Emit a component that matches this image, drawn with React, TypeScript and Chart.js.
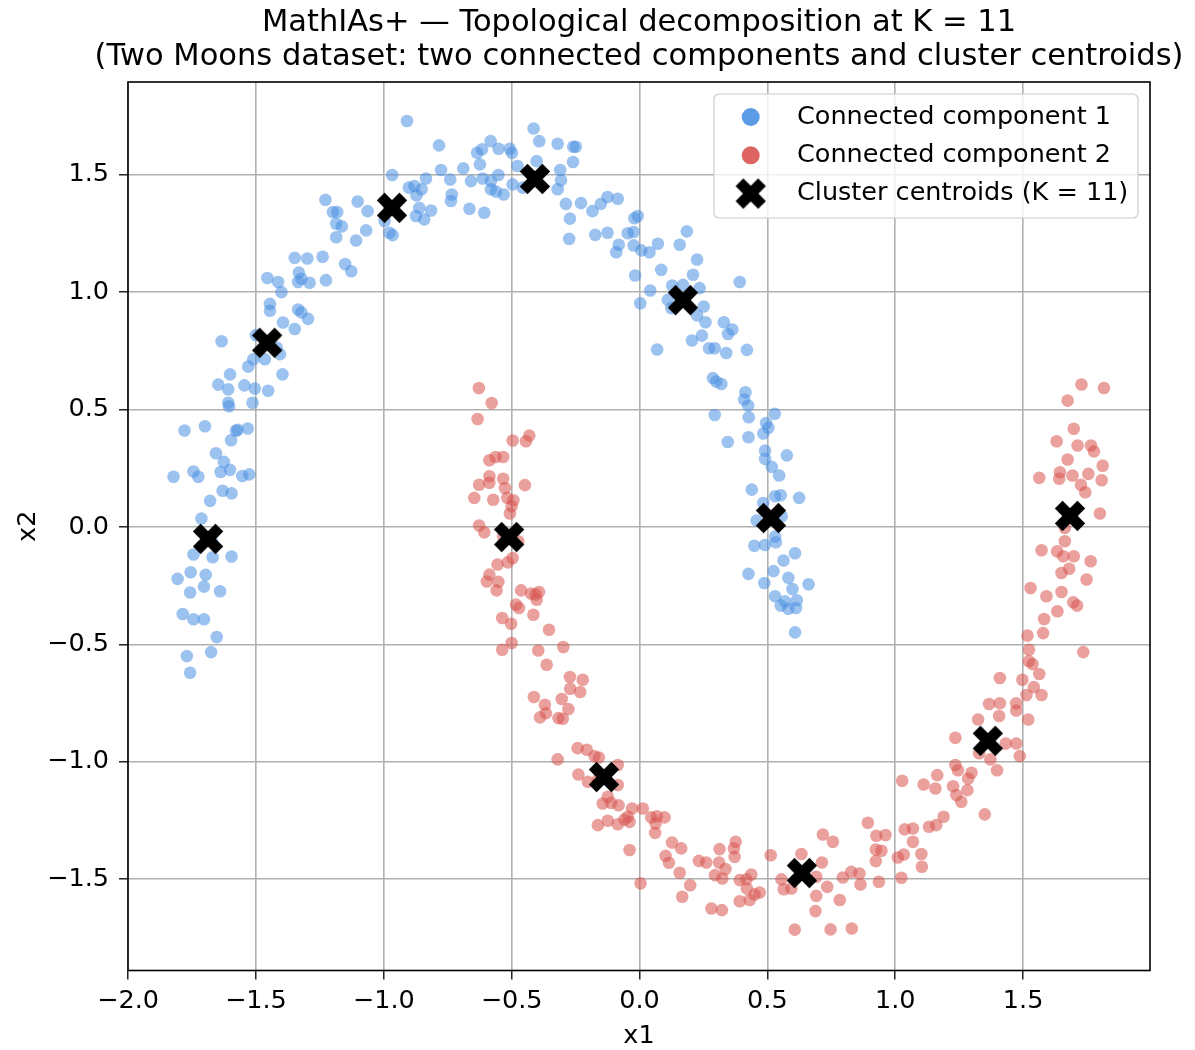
import { useEffect, useRef } from 'react';
import { Chart, registerables } from 'chart.js';

Chart.register(...registerables);

const FONT = "'DejaVu Sans', 'Noto Sans', sans-serif";

// ---------- text ----------
const titleLines = [
  'MathIAs+ — Topological decomposition at K = 11',
  '(Two Moons dataset: two connected components and cluster centroids)',
];
const xAxisLabel = 'x1';
const yAxisLabel = 'x2';
const seriesLabels = ['Connected component 1', 'Connected component 2', 'Cluster centroids (K = 11)'];

// ---------- axes ----------
const xTicks = [-2.0, -1.5, -1.0, -0.5, 0.0, 0.5, 1.0, 1.5];
const yTicks = [-1.5, -1.0, -0.5, 0.0, 0.5, 1.0, 1.5];
const xLimits = [-2.0, 1.996];
const yLimits = [-1.889, 1.895];

// ---------- data: [x1, x2] ----------
const component1: [number, number][] = [
  [-1.348, 1.146], [-1.299, 1.143], [-1.239, 1.151], [-1.151, 1.12], [-1.127, 1.089], [-1.455, 1.06], [-1.413, 1.043],
  [-1.4, 1.0], [-1.332, 1.083], [-1.322, 1.057], [-1.335, 1.043], [-1.29, 1.04], [-1.226, 1.051], [-1.445, 0.95],
  [-1.445, 0.921], [-1.335, 0.926], [-1.322, 0.914], [-1.296, 0.886], [-1.394, 0.871], [-1.348, 0.843], [-1.634, 0.791],
  [-1.5, 0.817], [-1.419, 0.764], [-1.406, 0.736], [-1.465, 0.714], [-1.51, 0.714], [-1.53, 0.683], [-1.601, 0.65],
  [-1.396, 0.65], [-1.647, 0.606], [-1.608, 0.586], [-1.545, 0.603], [-1.504, 0.589], [-1.452, 0.58], [-1.608, 0.529],
  [-1.605, 0.514], [-1.513, 0.529], [-1.779, 0.411], [-1.699, 0.429], [-1.578, 0.41], [-1.571, 0.414], [-1.532, 0.419],
  [-1.597, 0.369], [-1.656, 0.314], [-1.625, 0.277], [-1.638, 0.234], [-1.601, 0.243], [-1.744, 0.236], [-1.725, 0.214],
  [-1.822, 0.214], [-1.553, 0.217], [-1.526, 0.224], [-1.63, 0.154], [-1.595, 0.143], [-1.679, 0.111], [-1.713, 0.036],
  [-1.673, -0.054], [-1.744, -0.117], [-1.669, -0.129], [-1.595, -0.126], [-1.755, -0.193], [-1.696, -0.204],
  [-1.806, -0.221], [-1.703, -0.254], [-1.757, -0.279], [-1.64, -0.274], [-1.786, -0.371], [-1.744, -0.393],
  [-1.703, -0.393], [-1.653, -0.469], [-1.77, -0.55], [-1.675, -0.533], [-1.757, -0.621],
  [-0.909, 1.729], [-0.784, 1.625], [-0.414, 1.697], [-0.392, 1.643], [-0.32, 1.632], [-0.259, 1.619], [-0.249, 1.619],
  [-0.26, 1.554], [-0.582, 1.643], [-0.616, 1.608], [-0.635, 1.594], [-0.551, 1.611], [-0.507, 1.611], [-0.499, 1.594],
  [-0.624, 1.544], [-0.776, 1.52], [-0.689, 1.527], [-0.477, 1.537], [-0.402, 1.558], [-0.31, 1.52], [-0.967, 1.499],
  [-0.835, 1.484], [-0.74, 1.48], [-0.659, 1.473], [-0.613, 1.484], [-0.552, 1.499], [-0.581, 1.473], [-0.307, 1.476],
  [-0.32, 1.438], [-0.496, 1.459], [-0.457, 1.445], [-0.902, 1.445], [-0.88, 1.452], [-0.852, 1.438], [-0.872, 1.413],
  [-0.581, 1.438], [-0.561, 1.428], [-0.531, 1.416], [-0.734, 1.416], [-0.737, 1.388], [-1.228, 1.393], [-1.102, 1.386],
  [-1.199, 1.341], [-1.182, 1.341], [-1.063, 1.345], [-1.186, 1.291], [-1.164, 1.28], [-1.186, 1.234], [-1.108, 1.22],
  [-1.069, 1.263], [-0.997, 1.303], [-0.978, 1.253], [-0.965, 1.243], [-0.861, 1.359], [-0.815, 1.348], [-0.874, 1.324],
  [-0.842, 1.31], [-0.665, 1.355], [-0.607, 1.338], [-0.288, 1.376], [-0.229, 1.379], [-0.272, 1.313], [-0.184, 1.345],
  [-0.151, 1.376], [-0.125, 1.405], [-0.275, 1.227], [-0.173, 1.244], [-0.125, 1.253],
  [-0.085, 1.398], [-0.02, 1.315], [-0.007, 1.324], [-0.046, 1.251], [-0.023, 1.256], [-0.091, 1.17], [-0.081, 1.202],
  [-0.023, 1.199], [0.007, 1.178], [0.039, 1.17], [0.072, 1.206], [0.185, 1.259], [0.157, 1.202], [0.225, 1.139],
  [0.085, 1.095], [0.209, 1.074], [-0.017, 1.071], [0.128, 1.028], [0.17, 1.031], [0.235, 1.017], [0.392, 1.043],
  [0.042, 1.007], [0.003, 0.953], [0.111, 0.967], [0.124, 0.932], [0.251, 0.939], [0.225, 0.901], [0.258, 0.872],
  [0.33, 0.872], [0.363, 0.841], [0.346, 0.822], [0.244, 0.815], [0.205, 0.794], [0.272, 0.761], [0.294, 0.761],
  [0.339, 0.741], [0.42, 0.754], [0.069, 0.756], [0.287, 0.634], [0.3, 0.619], [0.32, 0.609], [0.414, 0.574],
  [0.409, 0.543], [0.425, 0.517], [0.294, 0.477], [0.529, 0.482], [0.427, 0.467],
  [0.495, 0.443], [0.504, 0.422], [0.484, 0.398], [0.345, 0.362], [0.426, 0.382], [0.491, 0.325], [0.576, 0.305],
  [0.491, 0.29], [0.517, 0.256], [0.546, 0.219], [0.439, 0.159], [0.53, 0.131], [0.552, 0.135], [0.624, 0.124],
  [0.484, 0.102], [0.556, 0.045], [0.458, 0.027], [0.449, -0.08], [0.491, -0.077], [0.533, -0.065], [0.53, -0.041],
  [0.608, -0.112], [0.563, -0.143], [0.426, -0.2], [0.524, -0.188], [0.582, -0.217], [0.488, -0.239], [0.661, -0.244],
  [0.598, -0.264], [0.53, -0.295], [0.569, -0.317], [0.552, -0.335], [0.582, -0.349], [0.615, -0.312], [0.612, -0.345],
  [0.608, -0.449],
];

const component2: [number, number][] = [
  [-0.628, 0.592], [-0.578, 0.528], [-0.633, 0.46], [-0.431, 0.389], [-0.444, 0.365], [-0.496, 0.368], [-0.587, 0.284],
  [-0.563, 0.298], [-0.533, 0.298], [-0.587, 0.216], [-0.627, 0.18], [-0.587, 0.188], [-0.533, 0.205], [-0.526, 0.166],
  [-0.448, 0.178], [-0.646, 0.124], [-0.572, 0.116], [-0.517, 0.124], [-0.493, 0.114], [-0.5, 0.088], [-0.507, 0.057],
  [-0.627, 0.006], [-0.607, -0.023], [-0.533, -0.04], [-0.474, -0.061], [-0.496, -0.132], [-0.515, -0.151],
  [-0.555, -0.16], [-0.587, -0.203], [-0.597, -0.232], [-0.552, -0.234], [-0.559, -0.27], [-0.463, -0.27],
  [-0.424, -0.284], [-0.406, -0.288], [-0.393, -0.277], [-0.402, -0.31], [-0.483, -0.331], [-0.471, -0.345],
  [-0.415, -0.374], [-0.537, -0.388], [-0.502, -0.412], [-0.354, -0.438], [-0.5, -0.494], [-0.537, -0.523],
  [-0.396, -0.526], [-0.298, -0.511], [-0.363, -0.587], [-0.272, -0.639], [-0.222, -0.651], [-0.271, -0.689],
  [-0.232, -0.703], [-0.413, -0.724], [-0.37, -0.757], [-0.304, -0.733], [-0.278, -0.776], [-0.366, -0.793],
  [-0.389, -0.811], [-0.317, -0.814], [-0.3, -0.817], [-0.242, -0.942], [-0.206, -0.949],
  [-0.32, -0.99], [-0.176, -0.976], [-0.159, -0.982], [-0.085, -1.014], [-0.239, -1.054], [-0.202, -1.085],
  [-0.163, -1.078], [-0.085, -1.099], [-0.124, -1.149], [-0.144, -1.178], [-0.111, -1.175], [-0.082, -1.185],
  [-0.029, -1.199], [0.013, -1.199], [-0.163, -1.27], [-0.124, -1.251], [-0.085, -1.266], [-0.059, -1.246],
  [-0.046, -1.234], [-0.039, -1.256], [0.046, -1.237], [0.068, -1.232], [0.098, -1.237], [0.063, -1.263],
  [0.061, -1.303], [-0.039, -1.376], [0.127, -1.344], [0.163, -1.369], [0.102, -1.401], [0.115, -1.43], [0.157, -1.473],
  [0.198, -1.526], [0.167, -1.575], [0.232, -1.422], [0.261, -1.429], [0.313, -1.372], [0.376, -1.341], [0.369, -1.369],
  [0.372, -1.405], [0.311, -1.429], [0.336, -1.457], [0.295, -1.483], [0.324, -1.497], [0.004, -1.518], [0.281, -1.625],
  [0.322, -1.632], [0.392, -1.504], [0.418, -1.501], [0.437, -1.48], [0.42, -1.54], [0.45, -1.565], [0.47, -1.557],
  [0.392, -1.594], [0.431, -1.589], [0.513, -1.398], [0.555, -1.501], [0.564, -1.543], [0.594, -1.54], [0.633, -1.393],
  [0.607, -1.715],
  [0.717, -1.31], [0.756, -1.341], [0.713, -1.429], [0.893, -1.26], [0.926, -1.315], [0.962, -1.312], [0.924, -1.374],
  [0.946, -1.379], [0.924, -1.423], [1.037, -1.288], [1.069, -1.284], [1.069, -1.341], [1.01, -1.408], [1.033, -1.395],
  [1.102, -1.393], [1.104, -1.447], [1.024, -1.494], [0.795, -1.493], [0.828, -1.469], [0.86, -1.476], [0.864, -1.523],
  [0.936, -1.511], [0.734, -1.533], [0.691, -1.571], [0.783, -1.589], [0.688, -1.636], [0.747, -1.714], [0.83, -1.71],
  [0.691, -1.49], [1.027, -1.081], [1.111, -1.097], [1.157, -1.114], [1.164, -1.057], [1.132, -1.277], [1.16, -1.27],
  [1.189, -1.234], [1.226, -1.104], [1.235, -1.014], [1.245, -1.036], [1.235, -0.898], [1.239, -1.142], [1.258, -1.17],
  [1.282, -1.121], [1.285, -1.071], [1.298, -1.047], [1.35, -1.224], [1.324, -0.82], [1.367, -0.754], [1.409, -0.751],
  [1.406, -0.805], [1.473, -0.751], [1.473, -0.782], [1.52, -0.82], [1.513, -0.716], [1.572, -0.716], [1.328, -0.964],
  [1.372, -0.99], [1.398, -1.036], [1.432, -0.922], [1.473, -0.922], [1.487, -0.976],
  [1.728, 0.607], [1.816, 0.592], [1.674, 0.538], [1.698, 0.418], [1.631, 0.365], [1.713, 0.347], [1.765, 0.347],
  [1.777, 0.322], [1.674, 0.287], [1.811, 0.261], [1.644, 0.233], [1.693, 0.219], [1.755, 0.226], [1.641, 0.205],
  [1.563, 0.209], [1.726, 0.18], [1.807, 0.199], [1.743, 0.148], [1.8, 0.057], [1.663, -0.004], [1.663, -0.061],
  [1.572, -0.099], [1.633, -0.104], [1.657, -0.125], [1.698, -0.125], [1.68, -0.178], [1.764, -0.146], [1.65, -0.196],
  [1.748, -0.224], [1.529, -0.26], [1.591, -0.295], [1.65, -0.277], [1.696, -0.321], [1.711, -0.335], [1.634, -0.359],
  [1.582, -0.392], [1.578, -0.452], [1.517, -0.463], [1.735, -0.533], [1.523, -0.523], [1.522, -0.572], [1.537, -0.584],
  [1.563, -0.626], [1.497, -0.651], [1.409, -0.643], [1.542, -0.682],
];

const centroids: [number, number][] = [
  [-1.687, -0.051], [-1.456, 0.784], [-0.968, 1.359], [-0.409, 1.482], [0.17, 0.966], [0.514, 0.038],
  [-0.51, -0.043], [-0.139, -1.065], [0.635, -1.474], [1.362, -0.911], [1.683, 0.047],
];

// ---------- styles ----------
const blue = 'rgba(74, 144, 226, 0.55)';
const red = 'rgba(217, 83, 79, 0.55)';
const blueLegend = 'rgba(74, 144, 226, 0.9)';
const redLegend = 'rgba(217, 83, 79, 0.9)';

const toXY = (arr: [number, number][]) => arr.map(([x, y]) => ({ x, y }));
const fmt = (v: number | string) => {
  const n = Number(v);
  return (n < 0 ? '\u2212' : '') + Math.abs(n).toFixed(1);
};

function makeXMarker(): HTMLCanvasElement {
  const c = document.createElement('canvas');
  c.width = 34;
  c.height = 34;
  const g = c.getContext('2d')!;
  g.translate(17, 17);
  g.rotate(Math.PI / 4);
  g.fillStyle = '#000';
  const L = 32;
  const w = 11;
  g.fillRect(-L / 2, -w / 2, L, w);
  g.fillRect(-w / 2, -L / 2, w, L);
  return c;
}

export default function App() {
  const ref = useRef<HTMLCanvasElement | null>(null);

  useEffect(() => {
    if (!ref.current) return;
    const xMarker = makeXMarker();

    const framePlugin = {
      id: 'frameAndLegend',
      afterDatasetsDraw(chart: any) {
        const { ctx, chartArea: a } = chart;
        ctx.save();
        ctx.strokeStyle = '#000';
        ctx.lineWidth = 1.6;
        ctx.strokeRect(a.left, a.top, a.right - a.left, a.bottom - a.top);
        ctx.restore();
      },
      afterDraw(chart: any) {
        const { ctx, chartArea: a } = chart;
        const w = 424;
        const h = 124;
        const bx = a.right - 12 - w;
        const by = a.top + 12;
        ctx.save();
        ctx.beginPath();
        ctx.roundRect(bx, by, w, h, 5);
        ctx.fillStyle = 'rgba(255,255,255,0.8)';
        ctx.fill();
        ctx.strokeStyle = '#cccccc';
        ctx.lineWidth = 1.2;
        ctx.stroke();
        const ds = chart.data.datasets;
        const rowY = (i: number) => by + 23 + i * 38.3;
        const mx = bx + 36.7;
        ctx.font = `25.5px ${FONT}`;
        ctx.textBaseline = 'middle';
        ctx.textAlign = 'left';
        for (let i = 0; i < ds.length; i++) {
          const y = rowY(i);
          if (i === 2) {
            ctx.drawImage(xMarker, mx - xMarker.width / 2, y - xMarker.height / 2);
          } else {
            ctx.beginPath();
            ctx.arc(mx, y, 9, 0, Math.PI * 2);
            ctx.fillStyle = i === 0 ? blueLegend : redLegend;
            ctx.fill();
          }
          ctx.fillStyle = '#000';
          ctx.fillText(ds[i].label, bx + 83, y);
        }
        ctx.restore();
      },
    };

    const chart = new Chart(ref.current, {
      type: 'scatter',
      data: {
        datasets: [
          {
            label: seriesLabels[0],
            data: toXY(component1),
            backgroundColor: blue,
            borderWidth: 0,
            pointRadius: 6.3,
            order: 2,
          },
          {
            label: seriesLabels[1],
            data: toXY(component2),
            backgroundColor: red,
            borderWidth: 0,
            pointRadius: 6.3,
            order: 1,
          },
          {
            label: seriesLabels[2],
            data: toXY(centroids),
            backgroundColor: '#000',
            borderWidth: 0,
            pointStyle: xMarker as any,
            pointRadius: 15,
            order: 0,
          },
        ],
      },
      options: {
        responsive: false,
        animation: false,
        devicePixelRatio: 1,
        events: [],
        layout: { padding: 0 },
        plugins: {
          legend: { display: false },
          tooltip: { enabled: false },
          title: {
            display: true,
            text: titleLines,
            color: '#000',
            fullSize: true,
            font: { family: FONT, size: 30.5, weight: 'normal', lineHeight: 34 / 30.5 },
            padding: { top: 6, bottom: 8 },
          },
        },
        scales: {
          x: {
            type: 'linear',
            position: 'bottom',
            min: xLimits[0],
            max: xLimits[1],
            afterBuildTicks: (s: any) => {
              s.ticks = xTicks.map((v) => ({ value: v }));
            },
            afterFit: (s: any) => {
              s.height = 79.5;
            },
            grid: { color: '#b0b0b0', lineWidth: 1.6, drawTicks: true, tickLength: 9, tickColor: '#000', tickWidth: 1.3 },
            border: { display: false },
            ticks: {
              font: { family: FONT, size: 25.5 },
              color: '#000',
              padding: 7,
              maxRotation: 0,
              autoSkip: false,
              callback: (v: any) => fmt(v),
            },
            title: {
              display: true,
              text: xAxisLabel,
              color: '#000',
              font: { family: FONT, size: 25.5 },
              padding: { top: 0, bottom: -2 },
            },
          },
          y: {
            type: 'linear',
            position: 'left',
            min: yLimits[0],
            max: yLimits[1],
            afterBuildTicks: (s: any) => {
              s.ticks = yTicks.map((v) => ({ value: v }));
            },
            afterFit: (s: any) => {
              s.width = 128;
            },
            grid: { color: '#b0b0b0', lineWidth: 1.6, drawTicks: true, tickLength: 9, tickColor: '#000', tickWidth: 1.3 },
            border: { display: false },
            ticks: {
              font: { family: FONT, size: 25.5 },
              color: '#000',
              padding: 10,
              autoSkip: false,
              callback: (v: any) => fmt(v),
            },
            title: {
              display: true,
              text: yAxisLabel,
              color: '#000',
              font: { family: FONT, size: 25.5 },
              padding: { top: 12.7, bottom: 0 },
            },
          },
          yRight: {
            type: 'linear',
            position: 'right',
            display: true,
            grid: { display: false, drawTicks: false },
            border: { display: false },
            ticks: { display: false },
            afterFit: (s: any) => {
              s.width = 128;
            },
          },
        },
      },
      plugins: [framePlugin],
    });

    return () => chart.destroy();
  }, []);

  return (
    <div
      style={{
        position: 'fixed',
        left: 0,
        top: 0,
        width: 1195,
        height: 1050,
        overflow: 'hidden',
        background: '#fff',
      }}
    >
      <canvas ref={ref} width={1278} height={1050} style={{ display: 'block', width: 1278, height: 1050 }} />
    </div>
  );
}
